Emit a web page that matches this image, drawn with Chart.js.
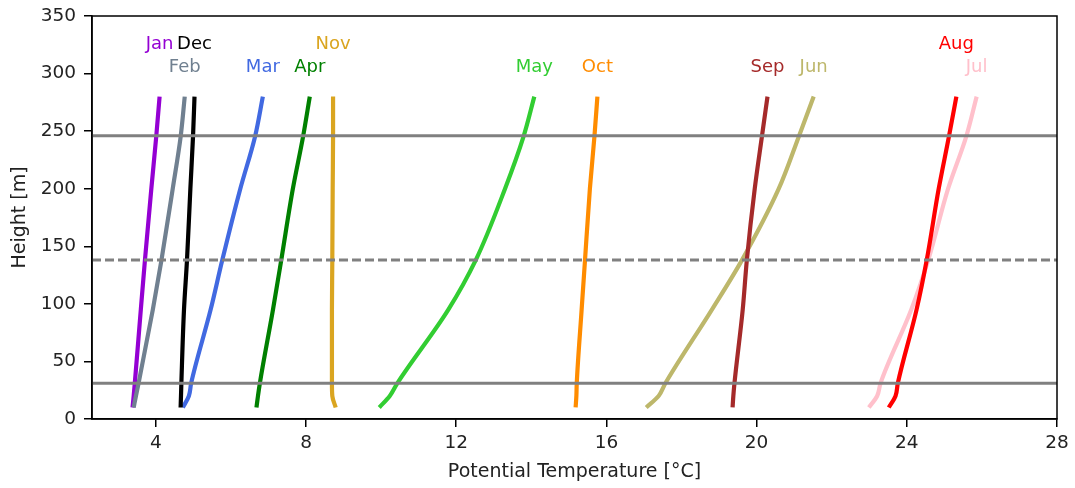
<!DOCTYPE html>
<html>
<head>
<meta charset="utf-8">
<script src="https://cdn.jsdelivr.net/npm/chart.js@4.4.2/dist/chart.umd.min.js"></script>
<style>
  html, body { margin: 0; padding: 0; background: #fff; }
  #wrap { width: 1075px; height: 488px; }
</style>
</head>
<body>
<div id="wrap"><canvas id="chart" width="1075" height="488"></canvas></div>
<script>
// Alturas de los perfiles (m)
const heights = [10, 20, 31, 95, 138, 200, 245, 280];

const months = ['Jan', 'Feb', 'Mar', 'Apr', 'May', 'Jun', 'Jul', 'Aug', 'Sep', 'Oct', 'Nov', 'Dec'];
const jan = [3.38, 3.41, 3.44, 3.60, 3.71, 3.88, 4.01, 4.10];
const feb = [3.41, 3.47, 3.54, 3.92, 4.15, 4.45, 4.66, 4.77];
const mar = [4.72, 4.88, 4.94, 5.46, 5.77, 6.25, 6.64, 6.85];
const apr = [6.68, 6.72, 6.77, 7.12, 7.34, 7.65, 7.92, 8.10];
const may = [9.95, 10.23, 10.43, 11.79, 12.52, 13.30, 13.79, 14.08];
const jun = [17.06, 17.39, 17.57, 18.81, 19.61, 20.59, 21.12, 21.52];
const jul = [22.99, 23.21, 23.30, 24.12, 24.57, 25.10, 25.58, 25.86];
const aug = [23.52, 23.70, 23.76, 24.26, 24.53, 24.85, 25.12, 25.32];
const sep = [19.36, 19.38, 19.41, 19.63, 19.74, 19.95, 20.14, 20.29];
const oct = [15.18, 15.20, 15.21, 15.34, 15.43, 15.56, 15.68, 15.76];
const nov = [8.79, 8.70, 8.69, 8.69, 8.70, 8.71, 8.72, 8.72];
const dec = [4.66, 4.67, 4.68, 4.75, 4.83, 4.92, 4.99, 5.03];
const series = [jan, feb, mar, apr, may, jun, jul, aug, sep, oct, nov, dec];

// Altura (m) donde va la etiqueta de cada mes
const labelHeights = [325, 305, 305, 305, 305, 305, 305, 325, 305, 305, 325, 325];

// Líneas horizontales de referencia (m)
const refHeights = [31, 138, 246];

// Ejes
const xMin = 2.3, xMax = 28;
const xTicks = [4, 8, 12, 16, 20, 24, 28];
const yTicks = [0, 50, 100, 150, 200, 250, 300, 350];

const colors = ['#9400D3', '#708090', '#4169E1', '#008000', '#32CD32', '#BDB76B',
                '#FFC0CB', '#FF0000', '#A52A2A', '#FF8C00', '#DAA520', '#000000'];

const FONT = '"DejaVu Sans", sans-serif';

// Líneas de referencia primero: Chart.js dibuja el primer dataset encima
const datasets = refHeights.map((h, i) => ({
  data: [{ x: xMin, y: h }, { x: xMax, y: h }],
  borderColor: '#808080',
  borderWidth: 3,
  borderDash: i === 1 ? [9, 4] : [],
  showLine: true,
  pointRadius: 0,
  order: 0
}));

series.forEach((vals, i) => {
  datasets.push({
    label: months[i],
    data: vals.map((v, k) => ({ x: v, y: heights[k] })),
    borderColor: colors[i],
    borderWidth: 4.2,
    showLine: true,
    pointRadius: 0,
    cubicInterpolationMode: 'monotone',
    borderJoinStyle: 'round',
    order: 12 - i
  });
});

// Marco completo y etiquetas de los meses
const frameAndLabels = {
  id: 'frameAndLabels',
  afterDatasetsDraw(chart) {
    const { ctx, chartArea: a, scales } = chart;
    ctx.save();
    ctx.strokeStyle = '#000';
    ctx.lineWidth = 1.5;
    ctx.strokeRect(a.left, a.top, a.right - a.left, a.bottom - a.top);
    ctx.font = '18px ' + FONT;
    ctx.textAlign = 'center';
    ctx.textBaseline = 'middle';
    months.forEach((m, i) => {
      const vals = series[i];
      const x = scales.x.getPixelForValue(vals[vals.length - 1]);
      const y = scales.y.getPixelForValue(labelHeights[i]);
      ctx.fillStyle = colors[i];
      ctx.fillText(m, x, y);
    });
    ctx.restore();
  }
};

new Chart(document.getElementById('chart'), {
  type: 'scatter',
  data: { datasets },
  options: {
    responsive: false,
    animation: false,
    events: [],
    indexAxis: 'y',
    layout: { padding: { top: 16, right: 18, left: 0, bottom: 0 } },
    plugins: { legend: { display: false }, tooltip: { enabled: false } },
    scales: {
      x: {
        type: 'linear',
        min: xMin,
        max: xMax,
        afterBuildTicks: s => { s.ticks = xTicks.map(v => ({ value: v })); },
        afterFit: s => { s.height = 69; s.paddingLeft = 0; s.paddingRight = 0; },
        grid: { display: true, drawOnChartArea: false, drawTicks: true, tickLength: 8, color: '#000', lineWidth: 1.5 },
        border: { color: '#000', width: 1.5 },
        ticks: { color: '#222', font: { family: FONT, size: 18.5 }, padding: 5 },
        title: { display: true, text: 'Potential Temperature [°C]', color: '#222',
                 font: { family: FONT, size: 19 }, padding: { top: 4, bottom: 5 } }
      },
      y: {
        type: 'linear',
        min: 0,
        max: 350,
        afterBuildTicks: s => { s.ticks = yTicks.map(v => ({ value: v })); },
        afterFit: s => { s.width = 92; s.paddingTop = 0; s.paddingBottom = 0; },
        grid: { display: true, drawOnChartArea: false, drawTicks: true, tickLength: 8, color: '#000', lineWidth: 1.5 },
        border: { color: '#000', width: 1.5 },
        ticks: { color: '#222', font: { family: FONT, size: 18.5 }, padding: 8 },
        title: { display: true, text: 'Height [m]', color: '#222',
                 font: { family: FONT, size: 19 }, padding: { top: 9, bottom: 4 } }
      }
    }
  },
  plugins: [frameAndLabels]
});
</script>
</body>
</html>
